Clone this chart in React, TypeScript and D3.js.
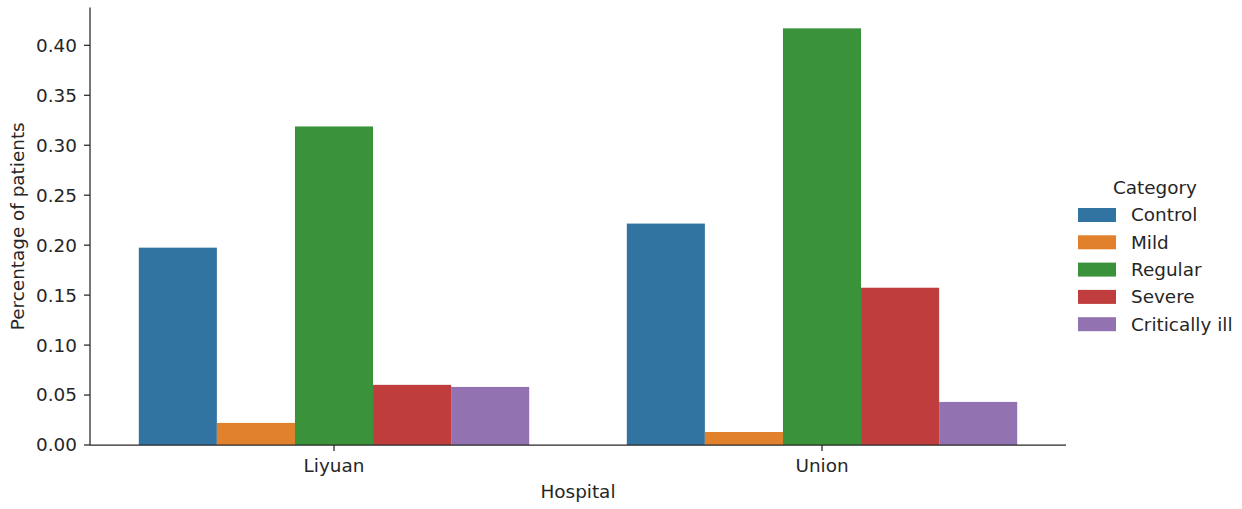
import React from "react";
import * as d3 from "d3";

const hospitals = ["Liyuan", "Union"];
const categories = ["Control", "Mild", "Regular", "Severe", "Critically ill"];
const colors = ["#3274a1", "#e1812c", "#3a923a", "#c03d3e", "#9372b2"];
// share of patients per category, one array per hospital
const liyuanValues = [0.1975, 0.0221, 0.3188, 0.0602, 0.0581];
const unionValues = [0.2216, 0.013, 0.417, 0.1574, 0.0431];
const yTicks = [0, 0.05, 0.1, 0.15, 0.2, 0.25, 0.3, 0.35, 0.4];

const W = 1242;
const H = 509;
const margin = { left: 90, right: 1066, top: 7.5, bottom: 445 };
const FONT = "DejaVu Sans, sans-serif";
const FS = 18.4;
const INK = "#262626";

export default function App() {
  const seriesByHospital = [liyuanValues, unionValues];
  const yMax = d3.max(seriesByHospital.flat())! * 1.05;
  const y = d3.scaleLinear().domain([0, yMax]).range([margin.bottom, margin.top]);
  const x = d3
    .scaleBand<string>()
    .domain(hospitals)
    .range([margin.left, margin.right])
    .paddingInner(0.2)
    .paddingOuter(0.1);
  const xi = d3.scaleBand<string>().domain(categories).range([0, x.bandwidth()]);

  const legendX = 1078;
  const legendY0 = 215;
  const legendStep = 27.3;

  return (
    <svg width={W} height={H} style={{ display: "block", position: "absolute", left: 0, top: 0 }} fontFamily={FONT}>
      <rect width={W} height={H} fill="#fff" />
      {hospitals.map((h, hi) =>
        categories.map((c, ci) => {
          const v = seriesByHospital[hi][ci];
          return (
            <rect
              key={h + c}
              x={x(h)! + xi(c)!}
              y={y(v)}
              width={xi.bandwidth()}
              height={y(0) - y(v)}
              fill={colors[ci]}
            />
          );
        })
      )}
      {/* y axis */}
      <line x1={margin.left} x2={margin.left} y1={margin.top} y2={margin.bottom} stroke={INK} strokeWidth={1.25} />
      {yTicks.map((t) => (
        <g key={t} transform={`translate(0,${y(t)})`}>
          <line x1={margin.left - 6} x2={margin.left} stroke={INK} strokeWidth={1.25} />
          <text x={margin.left - 13} dy="0.35em" textAnchor="end" fontSize={FS} fill={INK}>
            {t.toFixed(2)}
          </text>
        </g>
      ))}
      <text
        transform={`translate(24,${(margin.top + margin.bottom) / 2}) rotate(-90)`}
        textAnchor="middle"
        fontSize={FS}
        fill={INK}
      >
        Percentage of patients
      </text>
      {/* x axis */}
      <line x1={margin.left} x2={margin.right} y1={margin.bottom} y2={margin.bottom} stroke={INK} strokeWidth={1.25} />
      {hospitals.map((h) => {
        const cx = x(h)! + x.bandwidth() / 2;
        return (
          <g key={h} transform={`translate(${cx},${margin.bottom})`}>
            <line y1={0} y2={6} stroke={INK} strokeWidth={1.25} />
            <text y={27} textAnchor="middle" fontSize={FS} fill={INK}>
              {h}
            </text>
          </g>
        );
      })}
      <text x={(margin.left + margin.right) / 2} y={498} textAnchor="middle" fontSize={FS} fill={INK}>
        Hospital
      </text>
      {/* legend */}
      <text x={1155} y={194} textAnchor="middle" fontSize={FS} fill={INK}>
        Category
      </text>
      {categories.map((c, ci) => (
        <g key={c} transform={`translate(${legendX},${legendY0 + ci * legendStep})`}>
          <rect x={0} y={-7} width={38} height={14} fill={colors[ci]} />
          <text x={53} dy="0.35em" fontSize={FS} fill={INK}>
            {c}
          </text>
        </g>
      ))}
    </svg>
  );
}
